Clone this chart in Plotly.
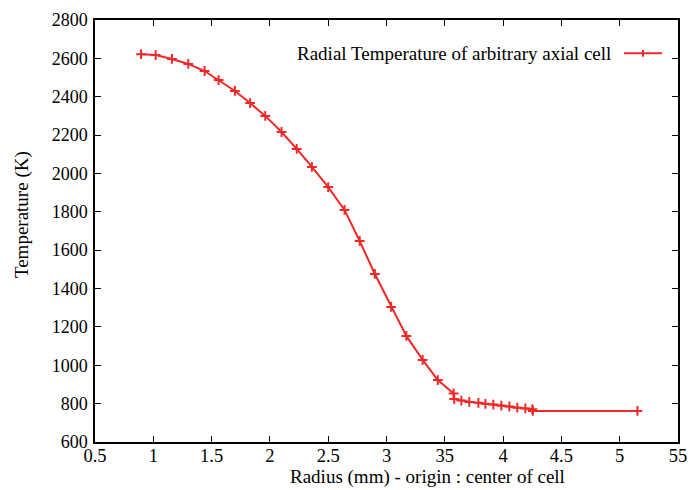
import plotly.graph_objects as go

radius_mm = [0.895, 1.02, 1.16, 1.30, 1.44, 1.56, 1.70, 1.83, 1.96, 2.10, 2.23, 2.36,
             2.50, 2.64, 2.77, 2.90, 3.04, 3.17, 3.31, 3.44, 3.575, 3.581, 3.642, 3.710,
             3.788, 3.848, 3.916, 3.985, 4.054, 4.122, 4.191, 4.251, 4.255, 5.152]
temperature_k = [2622, 2617, 2597, 2571, 2534, 2487, 2430, 2367, 2300, 2216, 2128, 2034,
                 1929, 1810, 1648, 1476, 1304, 1153, 1028, 923, 853, 824, 816, 809,
                 804, 799, 795, 790, 785, 779, 775, 771, 762, 762]

x_tickvals = [0.5, 1, 1.5, 2, 2.5, 3, 3.5, 4, 4.5, 5, 5.5]
x_ticktext = ["0.5", "1", "1.5", "2", "2.5", "3", "35", "4", "4.5", "5", "55"]
y_tickvals = [600, 800, 1000, 1200, 1400, 1600, 1800, 2000, 2200, 2400, 2600, 2800]

series_name = "Radial Temperature of arbitrary axial cell"
x_title = "Radius (mm) - origin : center of cell"
y_title = "Temperature (K)"
red = "#f02828"
font_family = "Liberation Serif"

fig = go.Figure()
fig.add_trace(go.Scatter(
    x=radius_mm, y=temperature_k, mode="lines+markers", name=series_name,
    line=dict(color=red, width=2),
    marker=dict(symbol="cross-thin", size=7, color=red, line=dict(color=red, width=2)),
    showlegend=False,
))

# legend (gnuplot style: text then sample)
fig.add_annotation(
    xref="paper", yref="paper", x=0.8885, y=0.921, xanchor="right", yanchor="middle",
    text=series_name, showarrow=False, font=dict(family=font_family, size=19, color="black"),
)
fig.add_shape(type="line", xref="paper", yref="paper", x0=0.9074, x1=0.9726, y0=0.921, y1=0.921,
              line=dict(color=red, width=2))
fig.add_shape(type="line", xref="paper", yref="paper", x0=0.940, x1=0.940, y0=0.913, y1=0.929,
              line=dict(color=red, width=2))

# axis titles (placed as in the reference)
fig.add_annotation(
    xref="paper", yref="paper", x=0.571, y=-0.083, xanchor="center", yanchor="middle",
    text=x_title, showarrow=False, font=dict(family=font_family, size=19, color="black"),
)
fig.add_annotation(
    xref="paper", yref="paper", x=-0.125, y=0.538, xanchor="center", yanchor="middle",
    text=y_title, textangle=-90, showarrow=False,
    font=dict(family=font_family, size=19, color="black"),
)

axis_common = dict(
    showline=True, linecolor="black", linewidth=1.5, mirror="ticks",
    ticks="inside", ticklen=6, tickwidth=1, tickcolor="black",
    showgrid=False, zeroline=False, automargin=False,
)

fig.update_xaxes(range=[0.5, 5.5], tickvals=x_tickvals, ticktext=x_ticktext,
                 ticklabelstandoff=-4,
                 tickfont=dict(family=font_family, size=18.5, color="black"), **axis_common)
fig.update_yaxes(range=[600, 2800], tickvals=y_tickvals, ticklabelstandoff=2,
                 tickfont=dict(family=font_family, size=18, color="black"), **axis_common)

fig.update_layout(
    width=696, height=490,
    margin=dict(l=95, r=18, t=20, b=48),
    plot_bgcolor="white", paper_bgcolor="white",
    font=dict(family=font_family, color="black"),
)

fig.write_html("out.html", config={"displayModeBar": False},
               post_script="document.body.style.margin='0';document.body.style.padding='0';"
                           "document.body.style.overflow='hidden';")
